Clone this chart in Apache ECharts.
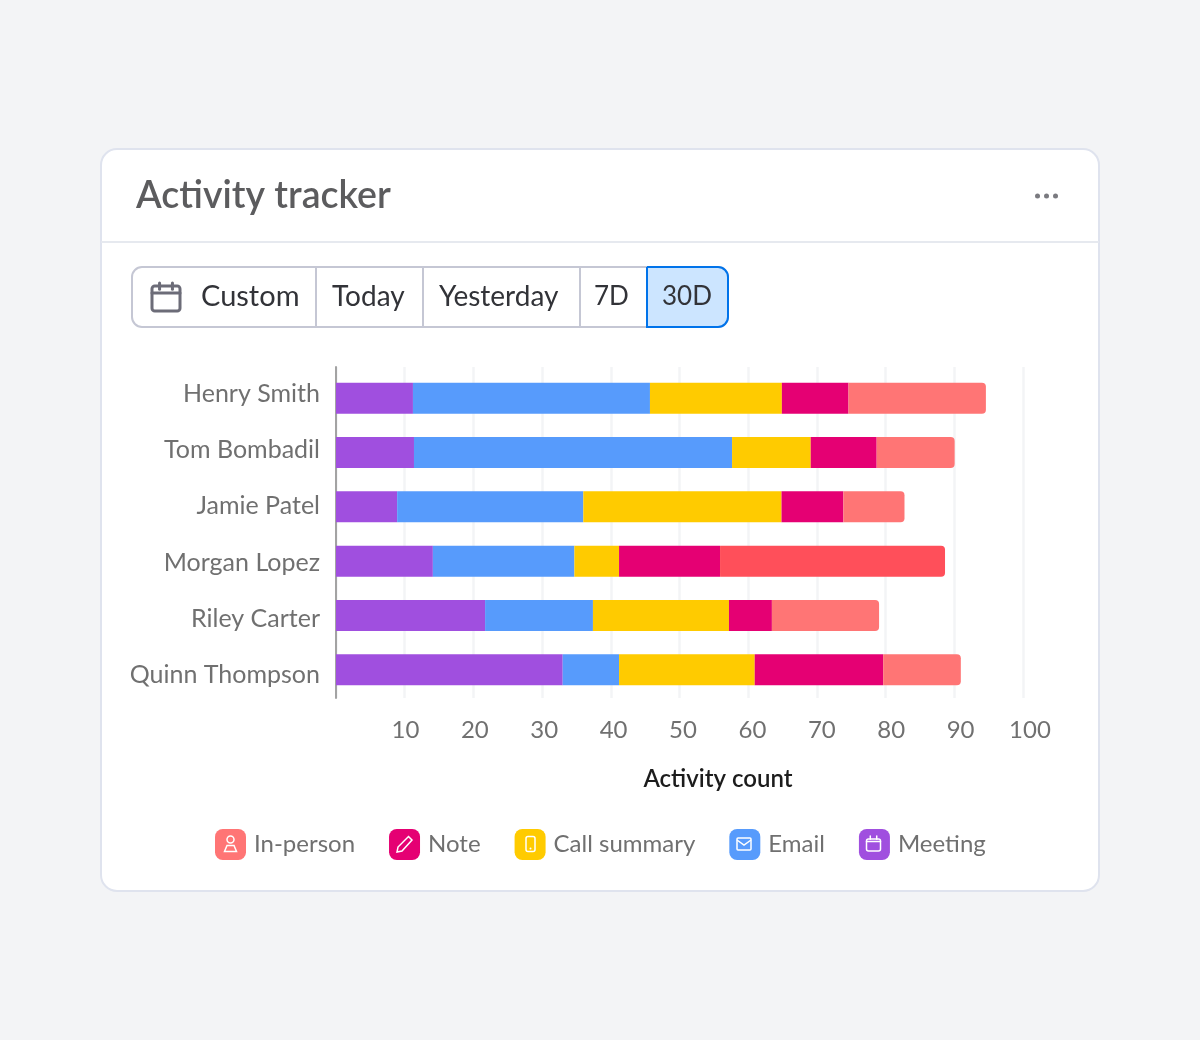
<!DOCTYPE html>
<html><head><meta charset="utf-8">
<style>html,body{margin:0;padding:0;background:#f3f4f6}#c{width:1200px;height:1040px}</style>
<script src="https://cdn.jsdelivr.net/npm/echarts@6/dist/echarts.min.js"></script>
</head><body><div id="c"></div>
<script>
const people = ['Henry Smith','Tom Bombadil','Jamie Patel','Morgan Lopez','Riley Carter','Quinn Thompson'];
const meeting  = [11.2, 11.35, 8.9, 14.1, 21.7, 33.0];
const email    = [34.5, 46.3, 27.1, 20.6, 15.7, 8.2];
const call     = [19.2, 11.45, 28.85, 6.5, 19.8, 19.75];
const note     = [9.7, 9.6, 9.0, 14.7, 6.25, 18.7];
const inPerson = [20.0, 11.35, 8.9, 32.75, 15.6, 11.3];
const legendOrder = ['In-person','Note','Call summary','Email','Meeting'];
const rangeButtons = ['Custom','Today','Yesterday','7D','30D'];
const highlightedPerson = 'Morgan Lopez';

const FONT = 'Lato, "Open Sans", sans-serif';
const GREY = '#707070';
const ink = '#323338';

function bar(name, values, color, extra){
  return Object.assign({
    name, type:'bar', stack:'a', xAxisIndex:1, yAxisIndex:1, barWidth:31,
    itemStyle:{color}, data:values.slice(), emphasis:{disabled:true}, silent:true
  }, extra||{});
}
const series = [
  bar('Meeting', meeting, '#a04fdf'),
  bar('Email', email, '#579bfc'),
  bar('Call summary', call, '#ffcb00'),
  bar('Note', note, '#e50073'),
  bar('In-person', inPerson.map((v,i)=> people[i]===highlightedPerson
      ? {value:v,itemStyle:{color:'#ff4f5a',borderRadius:[0,4,4,0]}} : v),
      '#ff7575', {itemStyle:{color:'#ff7575',borderRadius:[0,4,4,0]}})
];

function txt(x,y,text,size,fill,weight,align){
  return {type:'text',x,y,silent:true,style:{text,fontSize:size,fill,fontFamily:FONT,fontWeight:weight||400,
    align:align||'left',verticalAlign:'middle'}};
}
function rect(x,y,w,h,r,fill,stroke,lw){
  return {type:'rect',silent:true,shape:{x,y,width:w,height:h,r},style:{fill:fill||'none',stroke:stroke||'none',lineWidth:lw||0}};
}
function ln(x1,y1,x2,y2,stroke,lw){
  return {type:'line',silent:true,shape:{x1,y1,x2,y2},style:{stroke,lineWidth:lw,lineCap:'round'}};
}
function calendar(x,y,w,h,stroke,lw){
  return [
    rect(x,y+3,w,h-3,Math.max(2,w*0.1),'none',stroke,lw),
    ln(x,y+h*0.36,x+w,y+h*0.36,stroke,lw),
    ln(x+w*0.27,y,x+w*0.27,y+h*0.22,stroke,lw),
    ln(x+w*0.73,y,x+w*0.73,y+h*0.22,stroke,lw)
  ];
}
const W='#ffffff';
const glyphs = [
  {type:'circle',silent:true,shape:{cx:230.5,cy:839.5,r:3.5},style:{fill:'none',stroke:W,lineWidth:1.5}},
  {type:'polygon',silent:true,shape:{points:[[227,845.5],[234,845.5],[236.5,851.5],[224.5,851.5]]},style:{fill:'none',stroke:W,lineWidth:1.5}},
  {type:'polygon',silent:true,shape:{points:[[408.5,836.5],[412,840],[402,851],[397,852],[398,847]]},style:{fill:'none',stroke:W,lineWidth:1.5}},
  rect(526,836.5,9,15,2,'none',W,1.5),
  ln(530.5,848.5,530.5,848.6,W,2),
  rect(737,838,14,12,1,'none',W,1.5),
  {type:'polyline',silent:true,shape:{points:[[737,840],[744,845],[751,840]]},style:{fill:'none',stroke:W,lineWidth:1.5}},
  ...calendar(866.5,836,14,15,W,1.5)
];

const graphics = [
  rect(101,149,998,742,16,'#ffffff','#dfe3ee',2),
  ln(102,242,1098,242,'#e6e9ef',2),
  {type:'circle',silent:true,shape:{cx:1037.5,cy:196,r:2.5},style:{fill:'#7a7a80'}},
  {type:'circle',silent:true,shape:{cx:1046.5,cy:196,r:2.5},style:{fill:'#7a7a80'}},
  {type:'circle',silent:true,shape:{cx:1055.5,cy:196,r:2.5},style:{fill:'#7a7a80'}},
  rect(132,267,596,60,10,'#ffffff','#c5c7d4',2),
  ln(316,268,316,326,'#c5c7d4',2),
  ln(423,268,423,326,'#c5c7d4',2),
  ln(580,268,580,326,'#c5c7d4',2),
  rect(647,267,81,60,[0,10,10,0],'#cce5ff','#0073ea',2),
  ...calendar(152,283,28,28,'#6c6c78',3),
  txt(201,297,rangeButtons[0],29,ink),
  txt(332,297,rangeButtons[1],28,ink),
  txt(439,297,rangeButtons[2],28,ink),
  txt(594,297,rangeButtons[3],26,ink),
  txt(662,297,rangeButtons[4],26,ink),
  txt(136,196,'Activity tracker',37.5,'#5c5c5e',600)
].map(g=>Object.assign(g,{z:-1,zlevel:0}));

const option = {
  animation:false,
  backgroundColor:'#f3f4f6',
  textStyle:{fontFamily:FONT},
  legend:{
    left:210, top:824, itemWidth:31, itemHeight:31, itemGap:34, icon:'roundRect', selectedMode:false,
    data:legendOrder, textStyle:{fontSize:24,color:GREY,fontFamily:FONT,padding:[0,0,0,3]}
  },
  grid:[
    {left:336,width:687,top:367,height:331},
    {left:336,width:687,top:371,height:326},
    {left:336,width:694,top:366,height:337}
  ],
  xAxis:[
    {gridIndex:0,type:'value',min:0,max:100,interval:10,axisLine:{show:false},axisTick:{show:false},axisLabel:{show:false},
     splitLine:{show:true,lineStyle:{color:'#f3f4f6',width:2.5}}},
    {gridIndex:1,type:'value',min:0,max:100,interval:10,show:false,splitLine:{show:false}},
    {gridIndex:2,type:'value',min:0,max:100,interval:10,axisLine:{show:false},axisTick:{show:false},splitLine:{show:false},
     axisLabel:{fontSize:24,color:GREY,fontFamily:FONT,margin:15,showMinLabel:false,formatter:v=>v===0?'':String(v)},
     name:'Activity count',nameLocation:'middle',nameGap:64,
     nameTextStyle:{fontSize:24,fontWeight:600,color:'#1c1c1c',fontFamily:FONT,padding:[0,0,0,70]}}
  ],
  yAxis:[
    {gridIndex:0,type:'category',inverse:true,data:people,axisTick:{show:false},axisLabel:{show:false},splitLine:{show:false},
     axisLine:{show:true,lineStyle:{color:'#a3a3a3',width:2}}},
    {gridIndex:1,type:'category',inverse:true,data:people,show:false},
    {gridIndex:2,type:'category',inverse:true,data:people,axisLine:{show:false},axisTick:{show:false},splitLine:{show:false},
     axisLabel:{fontSize:25,color:GREY,fontFamily:FONT,margin:16}}
  ],
  series,
  graphic:{elements:graphics.concat(glyphs.map(g=>Object.assign(g,{z:100})))}
};
echarts.init(document.getElementById('c'),null,{renderer:'canvas'}).setOption(option);
</script></body></html>
